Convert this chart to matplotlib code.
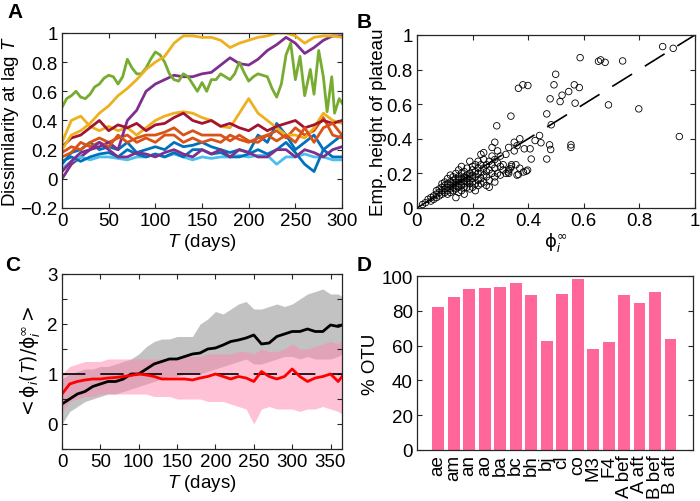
import matplotlib
matplotlib.use('Agg')
import matplotlib.pyplot as plt
import numpy as np

plt.rcParams['font.family'] = ['Liberation Sans', 'DejaVu Sans']
plt.rcParams['mathtext.fontset'] = 'custom'
plt.rcParams['mathtext.rm'] = 'DejaVu Sans'
plt.rcParams['mathtext.it'] = 'Liberation Sans:italic'
plt.rcParams['axes.unicode_minus'] = True

# ---- panel A: dissimilarity at lag T ----
days_a = list(range(0, 301, 10))
blue1 = [0.1, 0.18, 0.2, 0.25, 0.2, 0.22, 0.2, 0.25, 0.18, 0.2, 0.22, 0.2, 0.25, 0.22, 0.23, 0.25,
         0.22, 0.2, 0.18, 0.2, 0.18, 0.3, 0.25, 0.38, 0.3, 0.2, 0.25, 0.3, 0.2, 0.25, 0.3]
orange1 = [0.18, 0.22, 0.2, 0.25, 0.28, 0.25, 0.28, 0.3, 0.25, 0.28, 0.25, 0.3, 0.3, 0.25, 0.28, 0.25,
           0.27, 0.25, 0.3, 0.27, 0.25, 0.28, 0.3, 0.33, 0.28, 0.35, 0.3, 0.33, 0.42, 0.3, 0.28]
yellow_mid = [0.25, 0.4, 0.43, 0.36, 0.33, 0.36, 0.33, 0.35, 0.3, 0.35, 0.4, 0.43, 0.45, 0.46, 0.45, 0.42,
              0.4, 0.36, 0.35, 0.45, 0.55, 0.45, 0.4, 0.35, 0.3, 0.3, 0.28, 0.35, 0.45, 0.4, 0.38]
purple_hi = [0.0, 0.1, 0.15, 0.2, 0.22, 0.25, 0.2, 0.4, 0.47, 0.6, 0.65, 0.68, 0.71, 0.7, 0.7, 0.72,
             0.73, 0.78, 0.83, 0.79, 0.78, 0.82, 0.88, 0.92, 0.97, 0.93, 0.86, 0.9, 0.95, 0.98, 0.98]
lightblue = [0.07, 0.12, 0.15, 0.13, 0.15, 0.15, 0.14, 0.13, 0.15, 0.15, 0.17, 0.15, 0.17, 0.15, 0.13, 0.15,
             0.14, 0.15, 0.15, 0.16, 0.15, 0.16, 0.16, 0.1, 0.15, 0.15, 0.17, 0.15, 0.15, 0.13, 0.13]
darkred = [0.22, 0.28, 0.3, 0.35, 0.4, 0.33, 0.37, 0.35, 0.38, 0.33, 0.37, 0.38, 0.42, 0.45, 0.4, 0.38,
           0.4, 0.36, 0.38, 0.35, 0.33, 0.37, 0.33, 0.36, 0.38, 0.4, 0.35, 0.37, 0.4, 0.38, 0.4]
blue2 = [0.12, 0.15, 0.12, 0.15, 0.17, 0.18, 0.15, 0.2, 0.17, 0.15, 0.17, 0.15, 0.18, 0.15, 0.2, 0.2,
         0.17, 0.18, 0.15, 0.15, 0.17, 0.2, 0.17, 0.2, 0.25, 0.18, 0.1, 0.05, 0.2, 0.15, 0.15]
orange2 = [0.15, 0.18, 0.25, 0.22, 0.25, 0.22, 0.3, 0.25, 0.28, 0.3, 0.3, 0.32, 0.35, 0.3, 0.33, 0.3,
           0.3, 0.3, 0.26, 0.3, 0.26, 0.25, 0.3, 0.26, 0.3, 0.25, 0.35, 0.25, 0.35, 0.38, 0.3]
yellow_hi = [0.2, 0.3, 0.33, 0.38, 0.45, 0.5, 0.57, 0.62, 0.68, 0.75, 0.8, 0.84, 0.93, 0.98, 0.98, 0.97,
             0.97, 0.95, 0.9, 0.93, 0.95, 0.97, 0.98, 1.0, 1.0, 0.98, 0.93, 0.97, 0.98, 0.98, 0.97]
purple_lo = [0.05, 0.12, 0.18, 0.2, 0.25, 0.2, 0.15, 0.15, 0.18, 0.17, 0.15, 0.18, 0.2, 0.17, 0.15, 0.2,
             0.17, 0.2, 0.15, 0.2, 0.18, 0.15, 0.15, 0.2, 0.2, 0.15, 0.2, 0.18, 0.15, 0.2, 0.22]
green_days = [0, 5, 10, 15, 20, 25, 30, 35, 40, 45, 50, 55, 60, 65, 70, 75, 80, 85, 90, 95, 100, 105, 110,
              115, 120, 125, 130, 135, 140, 145, 150, 155, 160, 165, 170, 175, 180, 185, 190, 195, 200,
              205, 210, 215, 220, 225, 230, 235, 240, 245, 250, 255, 260, 266, 270, 275, 280, 284, 289,
              292, 297, 300]
green = [0.49, 0.55, 0.57, 0.6, 0.56, 0.55, 0.58, 0.63, 0.65, 0.69, 0.71, 0.7, 0.65, 0.7, 0.82, 0.76, 0.72,
         0.72, 0.76, 0.82, 0.87, 0.85, 0.8, 0.72, 0.68, 0.67, 0.72, 0.7, 0.65, 0.6, 0.66, 0.6, 0.68, 0.68,
         0.72, 0.7, 0.68, 0.72, 0.8, 0.73, 0.67, 0.7, 0.72, 0.71, 0.7, 0.62, 0.56, 0.65, 0.85, 0.93, 0.68,
         0.84, 0.57, 0.75, 0.58, 0.88, 0.7, 0.46, 0.7, 0.45, 0.55, 0.52]

# ---- panel B: plateau height vs phi_inf ----
phi_inf = [0.884, 0.922, 0.587, 0.653, 0.661, 0.677, 0.740, 0.499, 0.365, 0.381, 0.399, 0.493, 0.566,
           0.584, 0.546, 0.522, 0.479, 0.515, 0.569, 0.689, 0.798, 0.467, 0.338, 0.483, 0.287, 0.944,
           0.441, 0.425, 0.446, 0.477, 0.481, 0.554, 0.554, 0.407, 0.386, 0.467, 0.411, 0.365, 0.383,
           0.393, 0.398, 0.356, 0.335, 0.328,
           0.02, 0.03, 0.04, 0.05, 0.05, 0.06, 0.06, 0.07, 0.07, 0.07, 0.08, 0.08, 0.08, 0.09, 0.09, 0.09,
           0.09, 0.10, 0.10, 0.10, 0.10, 0.11, 0.11, 0.11, 0.11, 0.11, 0.12, 0.12, 0.12, 0.12, 0.12, 0.13,
           0.13, 0.13, 0.13, 0.13, 0.14, 0.14, 0.14, 0.14, 0.14, 0.14, 0.15, 0.15, 0.15, 0.15, 0.15, 0.15,
           0.16, 0.16, 0.16, 0.16, 0.16, 0.16, 0.17, 0.17, 0.17, 0.17, 0.17, 0.17, 0.18, 0.18, 0.18, 0.18,
           0.18, 0.19, 0.19, 0.19, 0.19, 0.19, 0.19, 0.20, 0.20, 0.20, 0.20, 0.20, 0.20, 0.21, 0.21, 0.21,
           0.21, 0.21, 0.22, 0.22, 0.22, 0.22, 0.22, 0.23, 0.23, 0.23, 0.23, 0.23, 0.24, 0.24, 0.24, 0.24,
           0.24, 0.25, 0.25, 0.25, 0.25, 0.26, 0.26, 0.26, 0.26, 0.27, 0.27, 0.27, 0.28, 0.28, 0.28, 0.28,
           0.29, 0.29, 0.29, 0.30, 0.30, 0.30, 0.31, 0.31, 0.32, 0.32, 0.33, 0.33, 0.34, 0.35, 0.35, 0.36,
           0.37, 0.36, 0.37, 0.33, 0.28, 0.27, 0.34]
plateau = [0.933, 0.923, 0.869, 0.848, 0.856, 0.842, 0.850, 0.773, 0.692, 0.712, 0.708, 0.712, 0.712,
           0.696, 0.673, 0.652, 0.631, 0.615, 0.606, 0.596, 0.573, 0.544, 0.531, 0.481, 0.475, 0.413,
           0.419, 0.390, 0.377, 0.365, 0.338, 0.365, 0.350, 0.342, 0.342, 0.283, 0.283, 0.194, 0.208,
           0.213, 0.219, 0.250, 0.227, 0.208,
           0.02, 0.03, 0.05, 0.04, 0.06, 0.07, 0.05, 0.06, 0.08, 0.10, 0.07, 0.09, 0.11, 0.08, 0.10, 0.12,
           0.14, 0.09, 0.11, 0.13, 0.15, 0.10, 0.12, 0.14, 0.17, 0.08, 0.11, 0.13, 0.15, 0.19, 0.09, 0.12,
           0.14, 0.16, 0.18, 0.10, 0.13, 0.15, 0.17, 0.20, 0.11, 0.06, 0.12, 0.14, 0.16, 0.18, 0.22, 0.09,
           0.13, 0.15, 0.17, 0.20, 0.24, 0.10, 0.14, 0.16, 0.18, 0.21, 0.12, 0.08, 0.15, 0.17, 0.19, 0.23,
           0.12, 0.14, 0.16, 0.18, 0.20, 0.27, 0.11, 0.15, 0.17, 0.19, 0.22, 0.24, 0.12, 0.14, 0.18, 0.21,
           0.25, 0.10, 0.16, 0.20, 0.23, 0.13, 0.27, 0.17, 0.21, 0.25, 0.31, 0.14, 0.19, 0.23, 0.28, 0.32,
           0.15, 0.21, 0.25, 0.18, 0.13, 0.22, 0.27, 0.16, 0.12, 0.25, 0.20, 0.30, 0.23, 0.28, 0.18, 0.15,
           0.33, 0.26, 0.20, 0.24, 0.30, 0.19, 0.22, 0.25, 0.31, 0.20, 0.22, 0.35, 0.25, 0.33, 0.38, 0.36,
           0.40, 0.19, 0.23, 0.20, 0.38, 0.35, 0.24]

# ---- panel C: normalised dissimilarity ----
days_c = list(range(0, 361, 10)) + [365]
black_mean = [0.4, 0.5, 0.6, 0.65, 0.75, 0.8, 0.85, 0.85, 0.9, 1.0, 1.0, 1.1, 1.2, 1.25, 1.3, 1.3, 1.35,
              1.4, 1.42, 1.5, 1.52, 1.58, 1.65, 1.68, 1.72, 1.78, 1.6, 1.62, 1.75, 1.8, 1.85, 1.85, 1.9,
              1.85, 1.85, 1.98, 1.95, 1.98]
gray_hi = [0.9, 1.0, 1.05, 1.1, 1.1, 1.15, 1.15, 1.2, 1.25, 1.3, 1.4, 1.55, 1.65, 1.7, 1.7, 1.75, 1.75,
           1.75, 2.0, 2.1, 2.25, 2.2, 2.3, 2.4, 2.45, 2.3, 2.3, 2.35, 2.4, 2.35, 2.4, 2.5, 2.6, 2.65, 2.7,
           2.6, 2.6, 2.55]
gray_lo = [0.0, 0.25, 0.35, 0.45, 0.5, 0.55, 0.6, 0.6, 0.65, 0.7, 0.75, 0.8, 0.85, 0.9, 0.95, 0.95, 1.0,
           1.0, 1.0, 1.05, 1.1, 1.15, 1.2, 1.25, 1.3, 1.2, 1.2, 1.25, 1.3, 1.35, 1.35, 1.3, 1.35, 1.3, 1.3,
           1.3, 1.35, 1.4]
red_mean = [0.6, 0.8, 0.85, 0.88, 0.9, 0.9, 0.92, 0.93, 0.95, 0.97, 1.0, 0.98, 0.95, 0.9, 0.9, 0.9, 0.9,
            0.88, 0.92, 0.95, 1.0, 0.95, 0.9, 0.95, 0.92, 0.85, 1.05, 0.95, 0.9, 0.95, 1.1, 0.95, 0.85,
            0.92, 0.95, 1.0, 0.85, 0.95]
pink_hi = [1.0, 1.15, 1.2, 1.25, 1.25, 1.25, 1.3, 1.3, 1.3, 1.3, 1.3, 1.3, 1.3, 1.3, 1.3, 1.3, 1.35, 1.35,
           1.35, 1.4, 1.4, 1.4, 1.4, 1.45, 1.45, 1.4, 1.5, 1.45, 1.45, 1.5, 1.6, 1.5, 1.5, 1.55, 1.6, 1.65,
           1.6, 1.7]
pink_lo = [0.25, 0.45, 0.5, 0.55, 0.55, 0.6, 0.6, 0.6, 0.6, 0.6, 0.6, 0.6, 0.55, 0.55, 0.55, 0.5, 0.5,
           0.5, 0.5, 0.45, 0.45, 0.45, 0.4, 0.35, 0.3, 0.0, 0.3, 0.35, 0.3, 0.3, 0.3, 0.25, 0.3, 0.3, 0.35,
           0.3, 0.25, 0.2]

# ---- panel D: % OTU ----
hosts = ['ae', 'am', 'an', 'ao', 'ba', 'bc', 'bh', 'bj', 'cl', 'co', 'M3', 'F4',
         'A bef', 'A aft', 'B bef', 'B aft']
pct_otu = [82.2, 88.1, 92.4, 93.1, 93.5, 95.8, 89.1, 62.7, 89.9, 98.1, 57.9, 62.1, 89.1, 84.7, 90.6, 64.0]

AX_COL = '#262626'


def style(ax):
    ax.tick_params(direction='in', top=True, right=True, length=3.5, width=0.8,
                   labelsize=13.5, color=AX_COL, pad=3)
    for s in ax.spines.values():
        s.set_color(AX_COL)
        s.set_linewidth(0.9)


fig = plt.figure(figsize=(7.0, 5.02), dpi=100)

# A
ax = fig.add_axes([0.0886, 0.5837, 0.4, 0.3486])
series = [(blue1, '#0072BD'), (orange1, '#D95319'), (yellow_mid, '#EDB120'), (purple_hi, '#7E2F8E'),
          (None, '#77AC30'), (lightblue, '#4DBEEE'), (darkred, '#A2142F'), (blue2, '#0072BD'),
          (orange2, '#D95319'), (yellow_hi, '#EDB120'), (purple_lo, '#7E2F8E')]
for vals, col in series:
    if vals is None:
        ax.plot(green_days, green, color=col, lw=2)
    else:
        ax.plot(days_a, vals, color=col, lw=2)
ax.set_xlim(0, 300)
ax.set_ylim(-0.2, 1)
ax.set_xticks(range(0, 301, 50))
ax.set_yticks([-0.2, 0, 0.2, 0.4, 0.6, 0.8, 1])
ax.set_yticklabels(['\u22120.2', '0', '0.2', '0.4', '0.6', '0.8', '1'])
ax.set_xlabel('$T$ (days)', fontsize=13.5, labelpad=1)
ax.set_ylabel('Dissimilarity at lag $T$', fontsize=13.5, labelpad=0)
style(ax)

# B
ax = fig.add_axes([0.5957, 0.5837, 0.397, 0.3446])
ax.plot([0, 1], [0, 1], color='black', lw=1.2, dashes=(14, 9))
ax.scatter(phi_inf, plateau, s=22, facecolors='none', edgecolors='black', linewidths=0.6, zorder=3)
ax.set_xlim(0, 1)
ax.set_ylim(0, 1)
ax.set_xticks([0, 0.2, 0.4, 0.6, 0.8, 1])
ax.set_xticklabels(['0', '0.2', '0.4', '0.6', '0.8', '1'])
ax.set_yticks([0, 0.2, 0.4, 0.6, 0.8, 1])
ax.set_yticklabels(['0', '0.2', '0.4', '0.6', '0.8', '1'])
ax.set_xlabel(r'$\mathrm{\phi}_i^{\infty}$', fontsize=13, labelpad=1)
ax.set_ylabel('Emp. height of plateau', fontsize=13.5, labelpad=0)
style(ax)

# C
ax = fig.add_axes([0.0886, 0.1036, 0.4, 0.3486])
ax.fill_between(days_c, gray_lo, gray_hi, color='#b8b8b8', alpha=0.85, lw=0)
ax.fill_between(days_c, pink_lo, pink_hi, color='#ff85ad', alpha=0.5, lw=0)
ax.plot([0, 365], [1, 1], color='black', lw=1.2, dashes=(14, 9))
ax.plot(days_c, black_mean, color='black', lw=2)
ax.plot(days_c, red_mean, color='#ff0000', lw=2)
ax.set_xlim(0, 365)
ax.set_ylim(-0.5, 3)
ax.set_xticks(range(0, 351, 50))
ax.set_yticks(np.arange(-0.5, 3.01, 0.5))
ax.set_yticklabels(['', '0', '', '1', '', '2', '', '3'])
ax.set_xlabel('$T$ (days)', fontsize=13.5, labelpad=1)
ax.set_ylabel(r'$<\mathrm{\phi}_i(T)/\mathrm{\phi}_i^{\infty}>$', fontsize=13.5, labelpad=4)
style(ax)

# D
ax = fig.add_axes([0.5957, 0.1016, 0.394, 0.3466])
pos = np.arange(1, len(hosts) + 1)
ax.bar(pos, pct_otu, width=0.77, color='#ff6699')
ax.set_xlim(-0.37, 17.44)
ax.set_ylim(0, 100)
ax.set_xticks(pos)
ax.set_xticklabels(hosts, rotation=90)
ax.set_yticks(range(0, 101, 20))
ax.set_ylabel('% OTU', fontsize=13.5, labelpad=2)
style(ax)
ax.tick_params(axis='x', length=0)

for x, y, t in [(0.01, 0.995, 'A'), (0.51, 0.975, 'B'), (0.008, 0.49, 'C'), (0.51, 0.49, 'D')]:
    fig.text(x, y, t, fontsize=15, fontweight='bold', va='top', ha='left')

fig.savefig('out.png', dpi=100)
